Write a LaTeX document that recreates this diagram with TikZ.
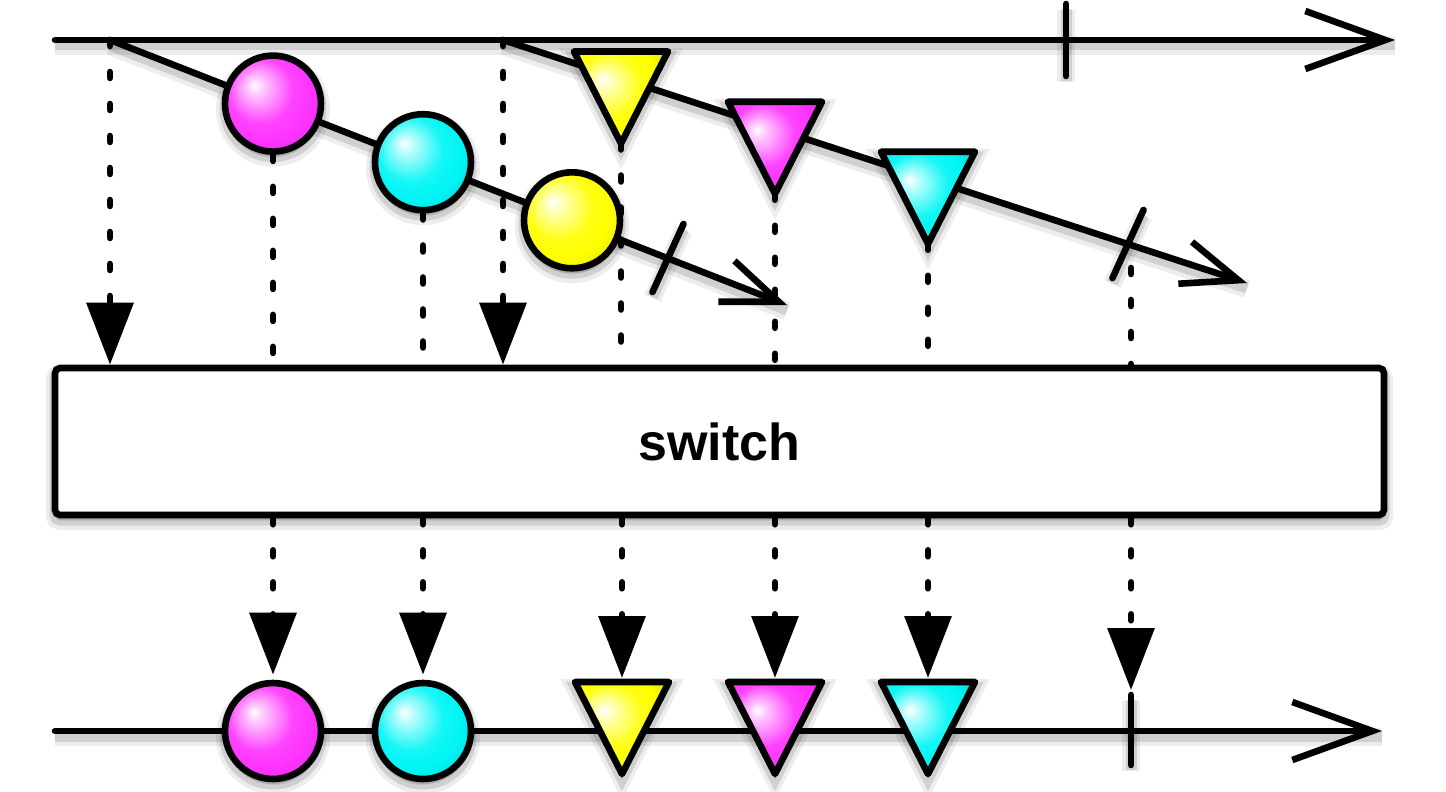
\documentclass[tikz,border=0pt]{standalone}
\usepackage{fontspec}
\newfontfamily\helv{Liberation Sans}
\usetikzlibrary{arrows.meta,calc}
\colorlet{mkcol}{magenta}
\definecolor{mmag}{RGB}{255,51,255}
\definecolor{mcya}{RGB}{0,245,245}
\definecolor{myel}{RGB}{255,255,0}
\pgfdeclareradialshading[mkcol]{marble}{\pgfpoint{-10bp}{10bp}}{%
 color(0bp)=(mkcol!0!white); color(4bp)=(mkcol!25!white); color(17bp)=(mkcol!92!white);
 color(25bp)=(mkcol); color(33bp)=(mkcol!90!black); color(40bp)=(mkcol!80!black); color(50bp)=(mkcol!80!black)}
\begin{document}
\begin{tikzpicture}[x=0.5pt,y=-0.5pt, line width=3.3pt,
  lshadow/.style={preaction={arrows=-, draw=black, draw opacity=0.07, line width=9pt, transform canvas={yshift=-3pt}},
                  preaction={arrows=-, draw=black, draw opacity=0.12, line width=5.5pt, transform canvas={yshift=-2.5pt}}},
  fshadow/.style={preaction={draw=black, fill=black, draw opacity=0.07, fill opacity=0.07, line width=9pt, transform canvas={yshift=-3pt}},
                  preaction={draw=black, fill=black, draw opacity=0.12, fill opacity=0.12, line width=5.5pt, transform canvas={yshift=-2.5pt}}},
  marble/.style={fshadow, /utils/exec={\colorlet{mkcol}{#1}}, shading=marble, draw=black, line width=3.3pt, line join=round},
  marblec/.style={circle, minimum size=48pt, inner sep=0pt, marble=#1},
  strm/.style={lshadow, line width=3.3pt, line cap=round},
  dots/.style={line width=3.3pt, line cap=round, dash pattern=on 3pt off 13pt},
  tipin/.style={-{Triangle[length=31pt,width=23pt]}},
  bigbarb/.style={-{Straight Barb[length=40pt,width=29pt]}},
  smallbarb/.style={-{Straight Barb[length=28pt,width=22pt]}},
  tickmark/.style={lshadow, line width=3.3pt, line cap=round},
  tri/.pic={\path[marble=#1] (-47,0) -- (47,0) -- (0,92) -- cycle;
            \coordinate (-apex) at (0,92); \coordinate (-top) at (0,0);},
]
\useasboundingbox (0,0) rectangle (1446,792);

% top source line
\coordinate (L0) at (55,40);
\coordinate (L1) at (1395,40);
\coordinate (tk0) at (1066,40);
\draw[strm, bigbarb] (L0) -- (L1);
\draw[tickmark] ($(tk0)+(0,-36)$) -- ($(tk0)+(0,36)$);

% inner streams
\coordinate (s1) at (110,40);
\coordinate (e1) at (787,305);
\coordinate (s2) at (503,40);
\coordinate (e2) at (1247,283);
\coordinate (k1) at (668,258);
\coordinate (k2) at (1128,244);
\draw[strm, smallbarb] (s1) -- (e1);
\draw[strm, smallbarb] (s2) -- (e2);
\draw[tickmark] ($(k1)+(-15.5,34)$) -- ($(k1)+(15.5,-34)$);
\draw[tickmark] ($(k2)+(-15.5,34)$) -- ($(k2)+(15.5,-34)$);

% switch box
\node[fshadow, draw, line width=3.3pt, rounded corners=2.5pt, minimum width=664.5pt, minimum height=73.5pt,
      inner sep=0pt, fill=white, font=\helv\bfseries\fontsize{26}{30}\selectfont]
      (sw) at (719.5,441.5) {switch};

% elements of inner streams
\node[marblec=mmag] (m1) at (273,103.6) {};
\node[marblec=mcya] (m2) at (423,162.2) {};
\node[marblec=myel] (m3) at (572,220.3) {};
\pic (t1) at (621,51.5) {tri=myel};
\pic (t2) at (775,101.8) {tri=mmag};
\pic (t3) at (928,151.8) {tri=mcya};

% dotted connectors into switch
\draw[dots, tipin] (s1) -- (s1 |- sw.north);
\draw[dots, tipin] (s2) -- (s2 |- sw.north);
\draw[dots] (m1.south) -- (m1.south |- sw.north);
\draw[dots] (m2.south) -- (m2.south |- sw.north);
\draw[dots] (t1-apex) -- (t1-apex |- sw.north);
\draw[dots] (t2-apex) -- (t2-apex |- sw.north);
\draw[dots] (t3-apex) -- (t3-apex |- sw.north);
\coordinate (k2d) at (1131,268);
\draw[dots] (k2d) -- (k2d |- sw.north);

% output line
\coordinate (B0) at (55,731);
\coordinate (B1) at (1382,731);
\coordinate (bk) at (1131,731);
\coordinate (bktop) at (1131,690);
\draw[strm, bigbarb] (B0) -- (B1);
\draw[tickmark] ($(bk)+(0,-36)$) -- ($(bk)+(0,34)$);
\node[marblec=mmag] (b1) at (273,731) {};
\node[marblec=mcya] (b2) at (423,731) {};
\pic (bt1) at (622,682) {tri=myel};
\pic (bt2) at (775,682) {tri=mmag};
\pic (bt3) at (928,682) {tri=mcya};

% dotted connectors out of switch
\draw[dots, tipin, shorten >=2.5pt] (m1.south |- sw.south) -- (b1.north);
\draw[dots, tipin, shorten >=2.5pt] (m2.south |- sw.south) -- (b2.north);
\draw[dots, tipin, shorten >=2pt] (bt1-top |- sw.south) -- (bt1-top);
\draw[dots, tipin, shorten >=2pt] (bt2-top |- sw.south) -- (bt2-top);
\draw[dots, tipin, shorten >=2pt] (bt3-top |- sw.south) -- (bt3-top);
\draw[dots, tipin] (bktop |- sw.south) -- (bktop);
\end{tikzpicture}
\end{document}
